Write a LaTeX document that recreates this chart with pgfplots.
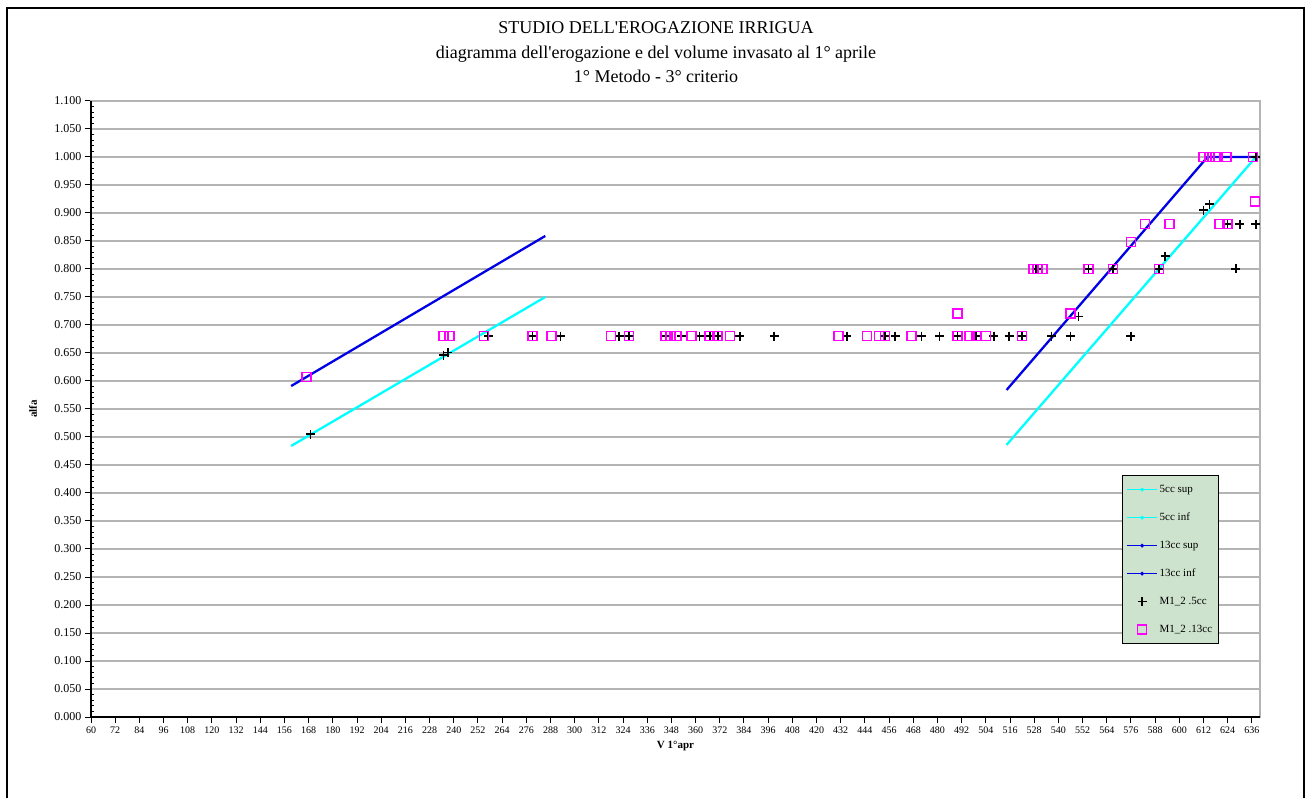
\documentclass[border=0pt]{standalone}
\usepackage{fontspec}
\setmainfont{Liberation Serif}
\usepackage{pgfplots}
\pgfplotsset{compat=1.18}
\definecolor{legfill}{RGB}{206,227,206}
\definecolor{mycyan}{RGB}{0,255,255}
\definecolor{myblue}{RGB}{0,0,230}
\definecolor{mymag}{RGB}{255,0,255}
\definecolor{gridgray}{RGB}{180,180,180}

\begin{document}
\begin{tikzpicture}[x=1pt,y=1pt]
\path[use as bounding box] (0,0) rectangle (1311,798);
\draw[black, line width=1.3pt] (7,0) -- (7,790) -- (1304,790) -- (1304,0);
\node[font=\fontsize{18}{20}\selectfont, anchor=base] at (656,764) {STUDIO DELL\textquotesingle EROGAZIONE IRRIGUA};
\node[font=\fontsize{18}{20}\selectfont, anchor=base] at (656,739) {diagramma dell\textquotesingle erogazione e del volume invasato al 1° aprile};
\node[font=\fontsize{18}{20}\selectfont, anchor=base] at (656,715) {1° Metodo - 3° criterio};
\begin{axis}[
  at={(91pt,81pt)}, anchor=south west,
  scale only axis, width=1169pt, height=616pt,
  xmin=60, xmax=640, ymin=0, ymax=1.1,
  clip=false,
  /pgf/number format/assume math mode=true,
  xtick={60,72,...,636},
  ytick={0,0.05,0.1,0.15,0.2,0.25,0.3,0.35,0.4,0.45,0.5,0.55,0.6,0.65,0.7,0.75,0.8,0.85,0.9,0.95,1.0,1.05,1.1},
  minor y tick num=4,
  scaled y ticks=false,
  xtick pos=bottom, ytick pos=left,
  yticklabel style={font=\fontsize{12}{12}\selectfont, /pgf/number format/fixed, /pgf/number format/fixed zerofill, /pgf/number format/precision=3},
  xticklabel style={font=\fontsize{10}{10}\selectfont},
  tick align=outside,
  major tick length=6pt,
  minor tick length=3pt,
  minor y tick style={xshift=3pt},
  tick style={black, line width=1pt},
  ymajorgrids,
  major grid style={gridgray, line width=1.2pt},
  axis line style={gridgray, line width=1.5pt},
  xlabel={\textbf{V 1°apr}},
  ylabel={\textbf{alfa}},
  xlabel style={font=\fontsize{11}{11}\selectfont, at={(axis description cs:0.5,-0.047)}, anchor=center},
  ylabel style={font=\fontsize{11}{11}\selectfont, at={(axis description cs:-0.0496,0.5)}, anchor=center},
  legend style={at={(0.882,0.393)}, anchor=north west, fill=legfill, draw=black, line width=1pt,
    font=\fontsize{11}{11}\selectfont, row sep=13.5pt, inner xsep=4pt, inner ysep=7pt,
    nodes={text height=8pt, text depth=2.5pt}},
  legend cell align=left,
  legend image code/.code={\draw[mark repeat=2,mark phase=2,#1] plot coordinates {(0pt,0pt) (15pt,0pt) (30pt,0pt)};},
]
\addplot[mycyan, line width=2.3pt, legend image post style={mark=*, mark size=1.3pt, line width=1.2pt}] coordinates {(159.3,0.484) (285.4,0.750)};
\addlegendentry{5cc sup}
\addplot[mycyan, line width=2.3pt, legend image post style={mark=*, mark size=1.3pt, line width=1.2pt}] coordinates {(514.3,0.486) (638,1.0)};
\addlegendentry{5cc inf}
\addplot[myblue, line width=2.3pt, legend image post style={mark=*, mark size=1.3pt, line width=1.2pt}] coordinates {(159.3,0.591) (285.4,0.859)};
\addlegendentry{13cc sup}
\addplot[myblue, line width=2.3pt, legend image post style={mark=*, mark size=1.3pt, line width=1.2pt}] coordinates {(514.3,0.584) (614,1.0) (640,1.0)};
\addlegendentry{13cc inf}
\addplot[only marks, mark=+, mark size=4.5pt, mark options={black, line width=1.6pt}] coordinates {
(169,0.505) (235,0.646) (237,0.651) (257,0.68) (279,0.68) (293,0.68)
(322,0.68) (327,0.68) (345,0.68) (353,0.68) (362,0.68) (367,0.68) (371,0.68) (382,0.68)
(399,0.68) (435,0.68) (454,0.68) (459,0.68) (472,0.68) (481,0.68) (490,0.68) (499,0.68)
(508,0.68) (515.5,0.68) (522,0.68) (536.5,0.68) (546,0.68) (576,0.68)
(550,0.715) (529,0.80) (555,0.80) (567,0.80) (590,0.80) (628,0.80) (593,0.823)
(612,0.905) (615,0.916) (624,0.88) (630,0.88) (638,0.88) (638,1.0)
};
\addlegendentry{M1\_2 .5cc}
\addplot[only marks, mark=square, mark size=4.5pt, mark options={mymag, line width=1.6pt}] coordinates {
(167,0.607) (235,0.68) (238,0.68) (255,0.68) (279,0.68) (288.5,0.68)
(318,0.68) (327,0.68) (345,0.68) (347.5,0.68) (350.5,0.68) (358,0.68) (367,0.68) (371,0.68) (377,0.68)
(431,0.68) (445,0.68) (451,0.68) (454,0.68) (467,0.68) (490,0.68) (496,0.68) (499.5,0.68) (504,0.68) (522,0.68)
(490,0.72) (546,0.72)
(527.5,0.80) (529.5,0.80) (532,0.80) (555,0.80) (567,0.80) (590,0.80)
(576,0.848) (583,0.88) (595,0.88) (620,0.88) (624,0.88) (637.5,0.92)
(612,1.0) (615,1.0) (618,1.0) (623.5,1.0) (636.5,1.0)
};
\addlegendentry{M1\_2 .13cc}
\draw[black, line width=1.5pt] (rel axis cs:0,1) -- (rel axis cs:0,0) -- (rel axis cs:1,0);
\end{axis}
\end{tikzpicture}
\end{document}
